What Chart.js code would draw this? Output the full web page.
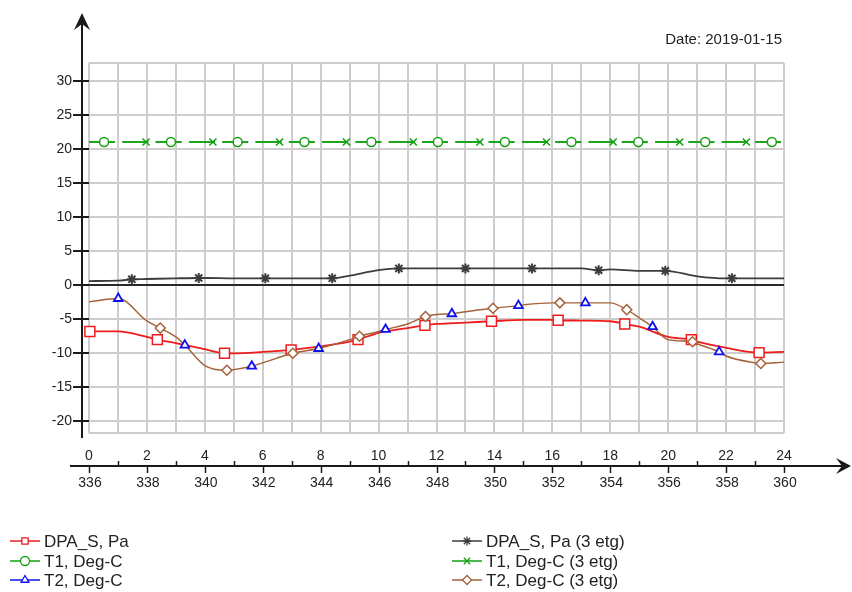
<!DOCTYPE html>
<html>
<head>
<meta charset="utf-8">
<script src="https://cdn.jsdelivr.net/npm/chart.js@4.4.1/dist/chart.umd.min.js"></script>
<style>
html, body { margin: 0; padding: 0; background: #fff; }
#wrap { position: relative; width: 852px; height: 592px; }
</style>
</head>
<body>
<div id="wrap"><canvas id="chart" width="852" height="592"></canvas></div>
<script>
// Hourly samples (hour of day 0..24), day-of-year labels under the axis
const hours = [0, 1, 2, 3, 4, 5, 6, 7, 8, 9, 10, 11, 12, 13, 14, 15, 16, 17, 18, 19, 20, 21, 22, 23, 24];
const hourLabels = ['0', '2', '4', '6', '8', '10', '12', '14', '16', '18', '20', '22', '24'];
const hourTicks = [0, 2, 4, 6, 8, 10, 12, 14, 16, 18, 20, 22, 24];
const minorTicks = [1, 3, 5, 7, 9, 11, 13, 15, 17, 19, 21, 23];
const dayLabels = ['336', '338', '340', '342', '344', '346', '348', '350', '352', '354', '356', '358', '360'];
const yTicks = [-20, -15, -10, -5, 0, 5, 10, 15, 20, 25, 30];
const dateText = 'Date: 2019-01-15';

const yMin = -21.7, yMax = 32.6, xMax = 24;

// DPA_S, Pa
const dpaS = [-6.8, -6.8, -7.6, -8.5, -9.4, -10.0, -9.8, -9.5, -9.0, -8.3, -7.0, -6.3, -5.7, -5.5, -5.3, -5.1, -5.1, -5.2, -5.3, -6.1, -7.6, -8.3, -9.2, -9.8, -9.8];
const dpaSMarkX = [0.03, 2.36, 4.68, 6.98, 9.29, 11.6, 13.9, 16.2, 18.5, 20.8, 23.14];
const dpaSMarkY = [-6.8, -8.0, -10.0, -9.5, -8.0, -5.9, -5.3, -5.15, -5.7, -8.0, -9.9];

// DPA_S, Pa (3 etg)
const dpaS3 = [0.6, 0.65, 0.9, 1.0, 1.05, 1.0, 1.0, 1.0, 1.0, 1.4, 2.2, 2.45, 2.45, 2.45, 2.45, 2.45, 2.45, 2.45, 2.3, 2.1, 2.1, 1.3, 1.0, 1.0, 1.0];
const dpaS3MarkX = [1.48, 3.79, 6.09, 8.4, 10.7, 13.0, 15.3, 17.6, 19.9, 22.2];
const dpaS3MarkY = [0.85, 1.05, 1.0, 1.0, 2.45, 2.45, 2.45, 2.2, 2.1, 1.0];

// T1, Deg-C
const t1 = [21, 21, 21, 21, 21, 21, 21, 21, 21, 21, 21, 21, 21, 21, 21, 21, 21, 21, 21, 21, 21, 21, 21, 21, 21];
const t1MarkX = [0.52, 2.83, 5.13, 7.44, 9.75, 12.05, 14.36, 16.66, 18.97, 21.28, 23.58];
const t1MarkY = [21, 21, 21, 21, 21, 21, 21, 21, 21, 21, 21];

// T1, Deg-C (3 etg)
const t13 = [21, 21, 21, 21, 21, 21, 21, 21, 21, 21, 21, 21, 21, 21, 21, 21, 21, 21, 21, 21, 21, 21, 21, 21, 21];
const t13MarkX = [1.97, 4.28, 6.58, 8.89, 11.2, 13.5, 15.8, 18.1, 20.4, 22.7];
const t13MarkY = [21, 21, 21, 21, 21, 21, 21, 21, 21, 21];

// T2, Deg-C (its line lies under the 3 etg line)
const t2MarkX = [1.01, 3.31, 5.62, 7.93, 10.24, 12.53, 14.83, 17.14, 19.46, 21.76];
const t2MarkY = [-1.96, -8.8, -11.9, -9.3, -6.5, -4.2, -3.0, -2.6, -6.1, -9.8];

// T2, Deg-C (3 etg)
const t23 = [-2.45, -2.0, -5.25, -7.6, -11.8, -12.4, -11.4, -10.0, -9.2, -8.0, -6.8, -5.7, -4.3, -3.9, -3.4, -2.9, -2.6, -2.6, -2.6, -4.8, -8.0, -8.6, -10.4, -11.4, -11.3];
const t23MarkX = [2.46, 4.76, 7.04, 9.34, 11.62, 13.95, 16.26, 18.57, 20.84, 23.2];
const t23MarkY = [-6.3, -12.5, -10.0, -7.5, -4.6, -3.4, -2.6, -3.6, -8.3, -11.5];

const FONT = 'Arial, "Liberation Sans", sans-serif';

// line samples + marker samples, sorted by x; m marks a drawn marker
function merge(lineY, markX, markY, extraX, extraY) {
    const pts = [];
    markX.forEach((v, i) => pts.push({ x: v, y: markY[i], m: true }));
    if (extraX) extraX.forEach((v, i) => pts.push({ x: v, y: extraY[i], m: false }));
    const marks = pts.slice();
    hours.forEach((h, i) => {
        if (i < lineY.length && !marks.some(p => Math.abs(p.x - h) < 0.15)) pts.push({ x: h, y: lineY[i], m: false });
    });
    return pts.sort((a, b) => a.x - b.x);
}

function series(label, data, color, style, radius, order, opts) {
    return Object.assign({
        label: label,
        data: data,
        borderColor: color,
        borderWidth: 1.6,
        pointStyle: style,
        pointBorderColor: color,
        pointBackgroundColor: '#ffffff',
        pointBorderWidth: 1.5,
        pointRadius: ctx => (ctx.raw && ctx.raw.m ? radius : 0),
        pointHoverRadius: 0,
        cubicInterpolationMode: 'monotone',
        tension: 0.3,
        clip: false,
        order: order
    }, opts || {});
}

const datasets = [
    series('DPA_S, Pa', merge(dpaS, dpaSMarkX, dpaSMarkY), '#ee1c1c', 'rect', 7, 2, { borderWidth: 1.8 }),
    series('DPA_S, Pa (3 etg)', merge(dpaS3, dpaS3MarkX, dpaS3MarkY), '#3c3c3c', 'star', 5, 3, { borderWidth: 1.8, pointBorderWidth: 2 }),
    series('T1, Deg-C', merge(t1, t1MarkX, t1MarkY), '#11a011', 'circle', 4.5, 4, { borderDash: [26, 7.3] }),
    series('T1, Deg-C (3 etg)', merge(t13, t13MarkX, t13MarkY), '#11a011', 'crossRot', 5, 5, { borderDash: [26, 7.3] }),
    series('T2, Deg-C', merge([], t2MarkX, t2MarkY), '#1010ee', 'triangle', 5, 0, { showLine: false, pointBorderWidth: 1.8 }),
    series('T2, Deg-C (3 etg)', merge(t23, t23MarkX, t23MarkY, t2MarkX, t2MarkY), '#a5623a', 'rectRot', 5, 1, { borderWidth: 1.4 })
];

// hand-drawn axes with arrows, the double row of x labels, the date and the legend
const decorations = {
    id: 'decorations',
    afterDraw(chart) {
        const { ctx, chartArea, scales } = chart;
        const xs = scales.x;
        const ink = '#1a1a1a';
        ctx.save();
        ctx.strokeStyle = ink;
        ctx.fillStyle = ink;
        ctx.lineWidth = 2;

        // y axis
        const ax = chartArea.left - 7;
        ctx.beginPath();
        ctx.moveTo(ax, chartArea.bottom + 5);
        ctx.lineTo(ax, 22);
        ctx.stroke();
        ctx.beginPath();
        ctx.moveTo(ax, 13);
        ctx.lineTo(ax - 8, 30);
        ctx.lineTo(ax, 24);
        ctx.lineTo(ax + 8, 30);
        ctx.closePath();
        ctx.fill();

        // x axis
        const ay = chartArea.bottom + 33;
        ctx.beginPath();
        ctx.moveTo(70, ay);
        ctx.lineTo(844, ay);
        ctx.stroke();
        ctx.beginPath();
        ctx.moveTo(851, ay);
        ctx.lineTo(836, ay - 8);
        ctx.lineTo(842, ay);
        ctx.lineTo(836, ay + 8);
        ctx.closePath();
        ctx.fill();

        ctx.lineWidth = 1.5;
        hourTicks.forEach(v => {
            const px = Math.round(xs.getPixelForValue(v)) + 0.5;
            ctx.beginPath();
            ctx.moveTo(px, ay);
            ctx.lineTo(px, ay + 7);
            ctx.stroke();
        });
        minorTicks.forEach(v => {
            const px = Math.round(xs.getPixelForValue(v)) + 0.5;
            ctx.beginPath();
            ctx.moveTo(px, ay - 5);
            ctx.lineTo(px, ay);
            ctx.stroke();
        });

        ctx.font = '14px ' + FONT;
        ctx.fillStyle = '#222';
        ctx.textAlign = 'center';
        ctx.textBaseline = 'middle';
        hourTicks.forEach((v, i) => {
            const px = xs.getPixelForValue(v);
            ctx.fillText(hourLabels[i], px, ay - 10);
            ctx.fillText(dayLabels[i], px + 1, ay + 17);
        });

        // date
        ctx.textAlign = 'right';
        ctx.font = '15px ' + FONT;
        ctx.fillText(dateText, chartArea.right - 2, 40);

        // legend: two columns of three
        const cols = [[0, 2, 4], [1, 3, 5]];
        const colX = [10, 452];
        const rowY = [541, 561, 580];
        ctx.font = '17px ' + FONT;
        ctx.textAlign = 'left';
        cols.forEach((col, c) => {
            col.forEach((di, r) => {
                const ds = chart.data.datasets[di];
                const x0 = colX[c], y0 = rowY[r];
                ctx.strokeStyle = ds.borderColor;
                ctx.lineWidth = 1.5;
                ctx.beginPath();
                ctx.moveTo(x0, y0);
                ctx.lineTo(x0 + 30, y0);
                ctx.stroke();
                ctx.fillStyle = '#ffffff';
                ctx.lineWidth = 1.3;
                Chart.helpers.drawPoint(ctx, { pointStyle: ds.pointStyle, radius: 4.5, rotation: 0, borderWidth: 1.3 }, x0 + 15, y0);
                ctx.fillStyle = '#222';
                ctx.fillText(ds.label, x0 + 34, y0 + 1);
            });
        });
        ctx.restore();
    }
};

new Chart(document.getElementById('chart').getContext('2d'), {
    type: 'line',
    data: { datasets: datasets },
    options: {
        responsive: false,
        animation: false,
        events: [],
        layout: { padding: { top: 63, right: 68, bottom: 159, left: 0 } },
        plugins: { legend: { display: false }, tooltip: { enabled: false } },
        scales: {
            x: {
                type: 'linear',
                min: 0,
                max: xMax,
                afterFit: s => { s.height = 0; },
                afterBuildTicks: s => { s.ticks = hours.map(v => ({ value: v })); },
                border: { display: false },
                grid: { color: '#cdcdcd', lineWidth: 2, drawTicks: false },
                ticks: { display: false }
            },
            y: {
                min: yMin,
                max: yMax,
                afterFit: s => { s.width = 89; },
                afterBuildTicks: s => { s.ticks = [yMin].concat(yTicks, [yMax]).map(v => ({ value: v })); },
                border: { display: false },
                grid: {
                    color: ctx => (ctx.tick && ctx.tick.value === 0 ? '#2a2a2a' : '#cdcdcd'),
                    lineWidth: 2,
                    tickLength: 16,
                    tickColor: ctx => (ctx.tick && yTicks.includes(ctx.tick.value) ? '#1a1a1a' : 'rgba(0,0,0,0)')
                },
                ticks: {
                    padding: 1,
                    color: '#222',
                    font: { family: FONT, size: 14 },
                    callback: v => (yTicks.includes(v) ? String(v) : '')
                }
            }
        }
    },
    plugins: [decorations]
});
</script>
</body>
</html>
